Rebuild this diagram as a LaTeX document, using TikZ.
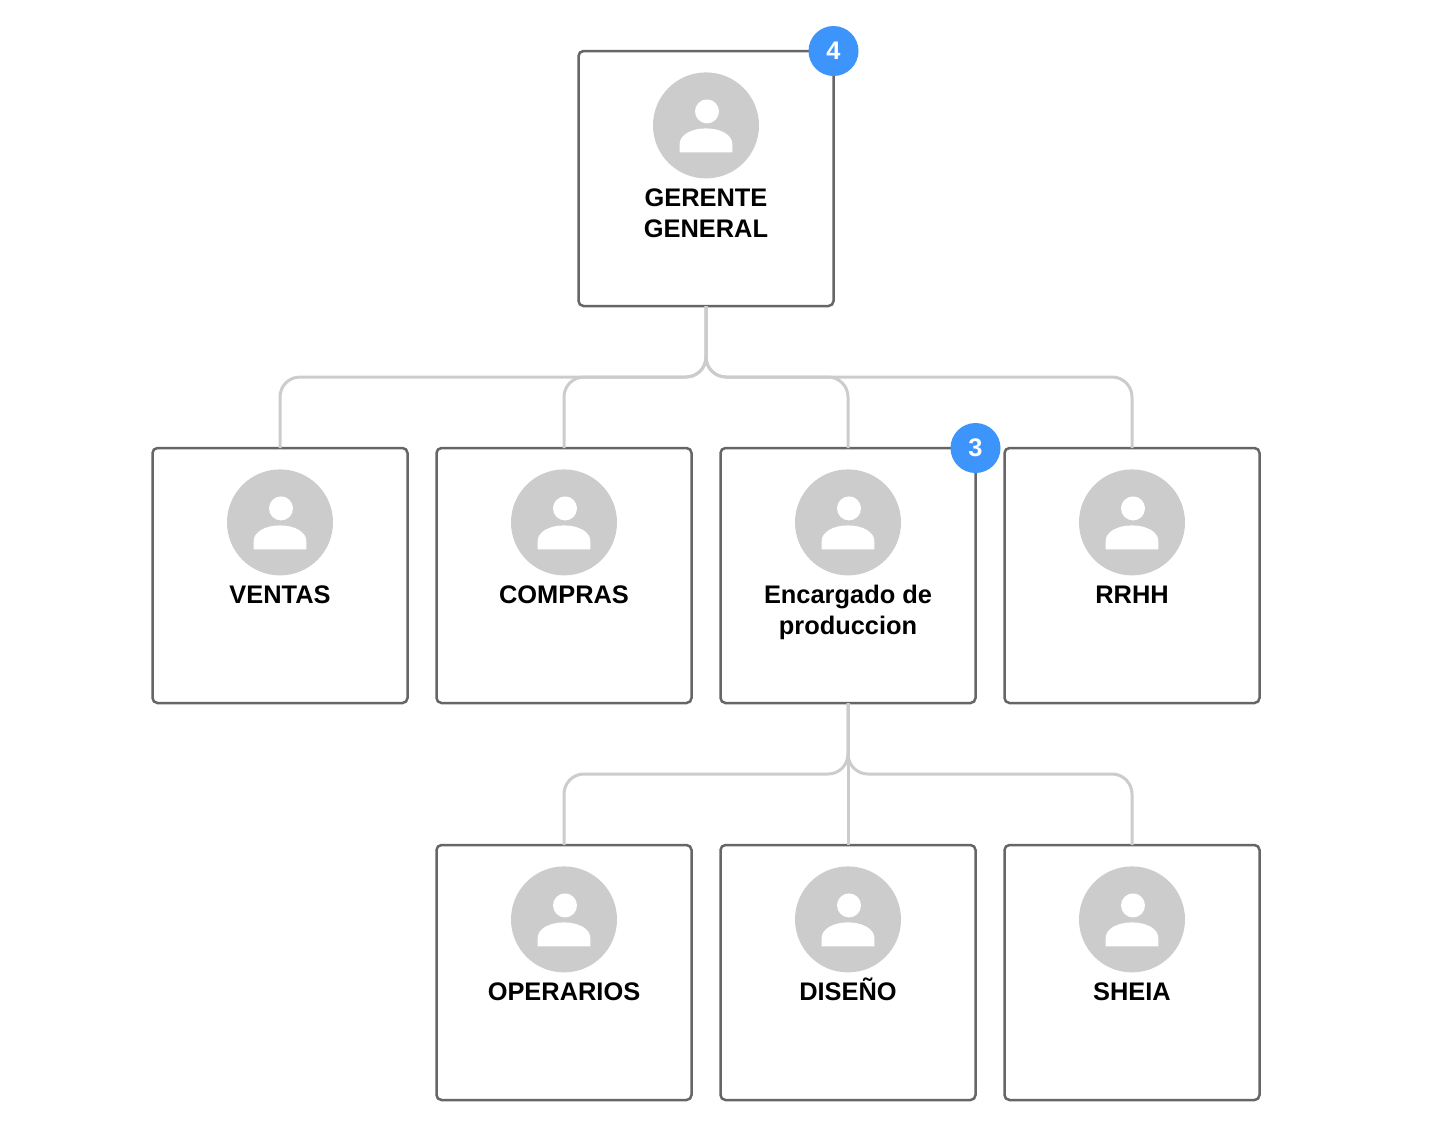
\documentclass[tikz,border=0pt]{standalone}
\usepackage{xcolor}
\usepackage{fontspec}
\setmainfont{Liberation Sans}
\usetikzlibrary{positioning}
\definecolor{cardstroke}{HTML}{666666}
\definecolor{linkgray}{HTML}{CCCCCC}
\definecolor{facegray}{HTML}{CCCCCC}
\definecolor{badgeblue}{HTML}{3D94FB}
\tikzset{
  card/.style={
    rectangle,
    rounded corners=2.5pt,
    draw=cardstroke,
    fill=white,
    line width=1.25pt,
    minimum width=127.5pt,
    minimum height=127.5pt,
    outer sep=0pt
  },
  avatar/.style={
    circle,
    fill=facegray,
    minimum size=53pt,
    inner sep=0pt,
    path picture={
      \fill[white] ([xshift=0.5pt,yshift=7pt]path picture bounding box.center) circle (6pt);
      \fill[white,shift={([xshift=0.5pt]path picture bounding box.center)}]
        (-13.2pt,-13.5pt) -- (-13.2pt,-9.5pt)
        .. controls (-13.2pt,-4.5pt) and (-7pt,-1.5pt) .. (0pt,-1.5pt)
        .. controls (7pt,-1.5pt) and (13.2pt,-4.5pt) .. (13.2pt,-9.5pt)
        -- (13.2pt,-13.5pt) -- cycle;
    }
  },
  title/.style={
    font=\fontsize{12.7pt}{15.5pt}\selectfont\bfseries,
    align=center,
    inner sep=0pt,
    text=black
  },
  titleline/.style={title,text height=9.2pt},
  badge/.style={
    circle,
    fill=badgeblue,
    minimum size=25pt,
    inner sep=0pt,
    text=white,
    font=\fontsize{12.7pt}{15pt}\selectfont\bfseries
  },
  link/.style={draw=linkgray,line width=1.5pt,rounded corners=10pt}
}
\begin{document}
\begin{tikzpicture}
  \useasboundingbox (0,0) rectangle (726pt,-560pt);

  \node[card] at (353pt,-89.25pt) (gerente) {};
  \node[card, below=71pt of gerente, xshift=71pt] (encargado) {};
  \node[card, left=14.5pt of encargado] (compras) {};
  \node[card, left=14.5pt of compras] (ventas) {};
  \node[card, right=14.5pt of encargado] (rrhh) {};
  \node[card, below=71pt of encargado] (diseno) {};
  \node[card, left=14.5pt of diseno] (operarios) {};
  \node[card, right=14.5pt of diseno] (sheia) {};

  \foreach \who in {gerente,ventas,compras,encargado,rrhh,operarios,diseno,sheia}{
    \node[avatar, below=10.5pt of \who.north] (\who face) {};
  }

  \node[title, below=5pt of gerenteface] (gerentetext) {GERENTE\\GENERAL};
  \node[titleline, below=4.25pt of ventasface] (ventastext) {VENTAS};
  \node[titleline, below=4.25pt of comprasface] (comprastext) {COMPRAS};
  \node[title, below=4.5pt of encargadoface] (encargadotext) {Encargado de\\produccion};
  \node[titleline, below=4.25pt of rrhhface] (rrhhtext) {RRHH};
  \node[titleline, below=4.25pt of operariosface] (operariostext) {OPERARIOS};
  \node[titleline, below=4.25pt of disenoface] (disenotext) {DISEÑO};
  \node[titleline, below=4.25pt of sheiaface] (sheiatext) {SHEIA};

  \coordinate[below=35.5pt of gerente] (busone);
  \coordinate[below=35.5pt of encargado] (bustwo);

  \draw[link] (gerente.south) -- (busone) -| (ventas.north);
  \draw[link] (gerente.south) -- (busone) -| (compras.north);
  \draw[link] (gerente.south) -- (busone) -| (encargado.north);
  \draw[link] (gerente.south) -- (busone) -| (rrhh.north);
  \draw[link] (encargado.south) -- (bustwo) -| (operarios.north);
  \draw[link] (encargado.south) -- (diseno.north);
  \draw[link] (encargado.south) -- (bustwo) -| (sheia.north);

  \node[badge] at (gerente.north east) (gerentebadge) {4};
  \node[badge] at (encargado.north east) (encargadobadge) {3};
\end{tikzpicture}
\end{document}
